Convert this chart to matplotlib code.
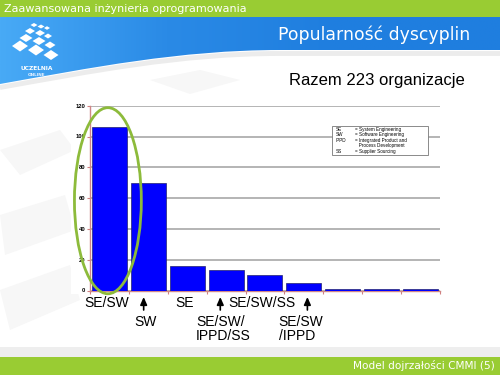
import numpy as np
import matplotlib
matplotlib.use("Agg")
import matplotlib.pyplot as plt
from matplotlib.patches import Rectangle, Ellipse, Polygon, PathPatch
from matplotlib.path import Path
from matplotlib.transforms import blended_transform_factory

# data (sums to 223 organizations)
bar_values = [106, 70, 16, 13, 10, 5, 1, 1, 1]
y_ticks = [0, 20, 40, 60, 80, 100, 120]

# labels under the bars: (bar index, text)
upper_labels = [(0, "SE/SW"), (2, "SE"), (4, "SE/SW/SS")]
lower_labels = [(1, "SW"), (3, "SE/SW/\nIPPD/SS"), (5, "SE/SW\n/IPPD")]
arrow_bars = [1, 3, 5]
arrow_shift = [-0.12, -0.15, 0.09]

legend_abbr = ["SE", "SW", "IPPD", "", "SS"]
legend_desc = ["= System Engineering", "= Software Engineering",
               "= Integrated Product and", "   Process Development",
               "= Supplier Sourcing"]

header = "Zaawansowana inżynieria oprogramowania"
title = "Popularność dyscyplin"
subtitle = "Razem 223 organizacje"
footer = "Model dojrzałości CMMI (5)"

GREEN = "#99cc33"
W, H = 500, 375

fig = plt.figure(figsize=(5, 3.75), dpi=100)
fig.patch.set_facecolor("white")

# ---- slide background (pixel coordinates) ----
bg = fig.add_axes([0, 0, 1, 1], zorder=0)
bg.set_xlim(0, W)
bg.set_ylim(H, 0)
bg.axis("off")

# faint watermark shapes
for pts in [[(0, 150), (60, 130), (75, 150), (20, 175)],
            [(0, 215), (65, 195), (75, 230), (5, 255)],
            [(0, 290), (70, 265), (80, 300), (10, 330)],
            [(150, 80), (200, 70), (240, 80), (190, 94)]]:
    bg.add_patch(Polygon(pts, closed=True, color="#f7f7f7", lw=0))

# blue header band with curved lower edge
verts = [(0, 17), (W, 17), (W, 50), (280, 50),
         (180, 50), (90, 68), (0, 84), (0, 17)]
codes = [Path.MOVETO, Path.LINETO, Path.LINETO, Path.LINETO,
         Path.CURVE4, Path.CURVE4, Path.CURVE4, Path.CLOSEPOLY]
band = PathPatch(Path(verts, codes), facecolor="none", lw=0)
bg.add_patch(band)
grad = np.linspace(0, 1, 256)[None, :]
cmap = matplotlib.colors.LinearSegmentedColormap.from_list(
    "hdr", ["#48aaf6", "#2a8ae6", "#1f7edf", "#1f7edf"])
im = bg.imshow(grad, cmap=cmap, extent=[0, W, 95, 17], aspect="auto")
im.set_clip_path(band)
# soft shadow under the band
shadow = Path([(W, 53.5), (280, 53.5), (180, 53.5), (90, 71.5), (0, 87.5)],
              [Path.MOVETO, Path.LINETO, Path.CURVE4, Path.CURVE4, Path.CURVE4])
bg.add_patch(PathPatch(shadow, facecolor="none", edgecolor="#ececec", lw=3.5))

# top green strip
bg.add_patch(Rectangle((0, 0), W, 17, color=GREEN, lw=0))
bg.text(4, 8.5, header, color="white", fontsize=8, va="center",
        family="DejaVu Sans")

# logo tiles (centre x, centre y, half width, half height)
tiles = [(20, 46, 8, 5.5), (36, 50, 8, 5.5), (51, 55, 7.5, 5),
         (26, 38, 6.5, 4), (39, 41, 6.5, 4), (50, 45, 5.5, 3.5),
         (30, 31, 5, 3), (40, 33, 5, 3), (48, 36, 4, 2.5),
         (34, 25, 3.5, 2), (41, 26.5, 3.5, 2), (47, 28, 3, 1.8)]
for cx, cy, hw, hh in tiles:
    bg.add_patch(Polygon([(cx - hw, cy), (cx, cy - hh), (cx + hw, cy), (cx, cy + hh)],
                         closed=True, color="white", lw=0))
bg.text(37, 68.5, "UCZELNIA", color="white", fontsize=4.2, weight="bold",
        ha="center", va="center", family="DejaVu Sans")
bg.text(37, 75.5, "ONLINE", color="#e8f2ff", fontsize=3, weight="bold",
        ha="center", va="center", family="DejaVu Sans")

bg.text(470, 35, title, color="white", fontsize=12.4, ha="right", va="center",
        family="DejaVu Sans")
bg.text(465, 80, subtitle, color="black", fontsize=12, ha="right", va="center",
        family="Liberation Sans")

# footer
bg.add_patch(Rectangle((0, 347), W, 10, color="#eeeeee", lw=0))
bg.add_patch(Rectangle((0, 357), W, 18, color=GREEN, lw=0))
bg.text(495, 365.5, footer, color="white", fontsize=7.6, ha="right", va="center",
        family="DejaVu Sans")

# white panel behind the chart
bg.add_patch(Rectangle((71, 97), 375, 197, color="white", lw=0))

# ---- chart ----
ax = fig.add_axes([90 / W, (H - 290.5) / H, 350 / W, 184.8 / H], zorder=2)
ax.set_facecolor("none")
x = np.arange(len(bar_values))
ax.bar(x, bar_values, width=0.9, color="#0000ff", edgecolor="#23236e",
       linewidth=0.5, zorder=3)
ax.set_xlim(-0.5, len(bar_values) - 0.5)
ax.set_ylim(0, 120)
ax.set_yticks(y_ticks)
ax.set_yticklabels([str(v) for v in y_ticks], fontsize=4.2, weight="bold",
                   family="Liberation Sans")
ax.set_xticks(np.arange(len(bar_values) + 1) - 0.5)
ax.set_xticklabels([])
ax.tick_params(axis="both", colors="#d08080", length=2, width=0.8, pad=1.5)
ax.tick_params(axis="y", labelcolor="black")
ax.yaxis.grid(True, color="#a8a8a8", lw=1.2, zorder=1)
ax.set_axisbelow(True)
for side in ["top", "right"]:
    ax.spines[side].set_visible(False)
for side in ["left", "bottom"]:
    ax.spines[side].set_color("#d08888")
    ax.spines[side].set_linewidth(1)

# legend box with abbreviations
mixed = blended_transform_factory(ax.transAxes, ax.transData)
ax.add_patch(Rectangle((0.691, 88), 0.275, 18.8, transform=mixed,
                       facecolor="white", edgecolor="#777777", lw=0.6, zorder=4))
for i, (ab, desc) in enumerate(zip(legend_abbr, legend_desc)):
    yy = 104.7 - i * 3.6
    ax.text(0.703, yy, ab, transform=mixed, fontsize=3.3, va="center",
            family="Liberation Sans", zorder=5)
    ax.text(0.757, yy, desc, transform=mixed, fontsize=3.3, va="center",
            family="Liberation Sans", zorder=5)

# green highlight ellipse round the first bar
ax.add_patch(Ellipse((x[0] - 0.04, bar_values[0] * 0.55), 1.72, bar_values[0] * 1.14,
                     facecolor="none", edgecolor="#8dbb3b", lw=2, clip_on=False, zorder=6))

# labels and arrows under the bars
tr = blended_transform_factory(ax.transData, fig.transFigure)
for i, txt in upper_labels:
    ax.text(x[i] - 0.07, 1 - 303 / H, txt, transform=tr, ha="center", va="center",
            fontsize=10, family="Liberation Sans")
for i, txt in lower_labels:
    ax.text(x[i] - 0.07, 1 - 315 / H, txt, transform=tr, ha="center", va="top",
            multialignment="left", fontsize=10, linespacing=1.0,
            family="Liberation Sans")
for i, dx in zip(arrow_bars, arrow_shift):
    ax.annotate("", xy=(x[i] + dx, 1 - 297 / H), xytext=(x[i] + dx, 1 - 310 / H),
                xycoords=tr, textcoords=tr,
                arrowprops=dict(arrowstyle="-|>,head_length=0.45,head_width=0.2",
                                color="black", lw=1.2, shrinkA=0, shrinkB=0))

fig.savefig("out.png", dpi=100)
